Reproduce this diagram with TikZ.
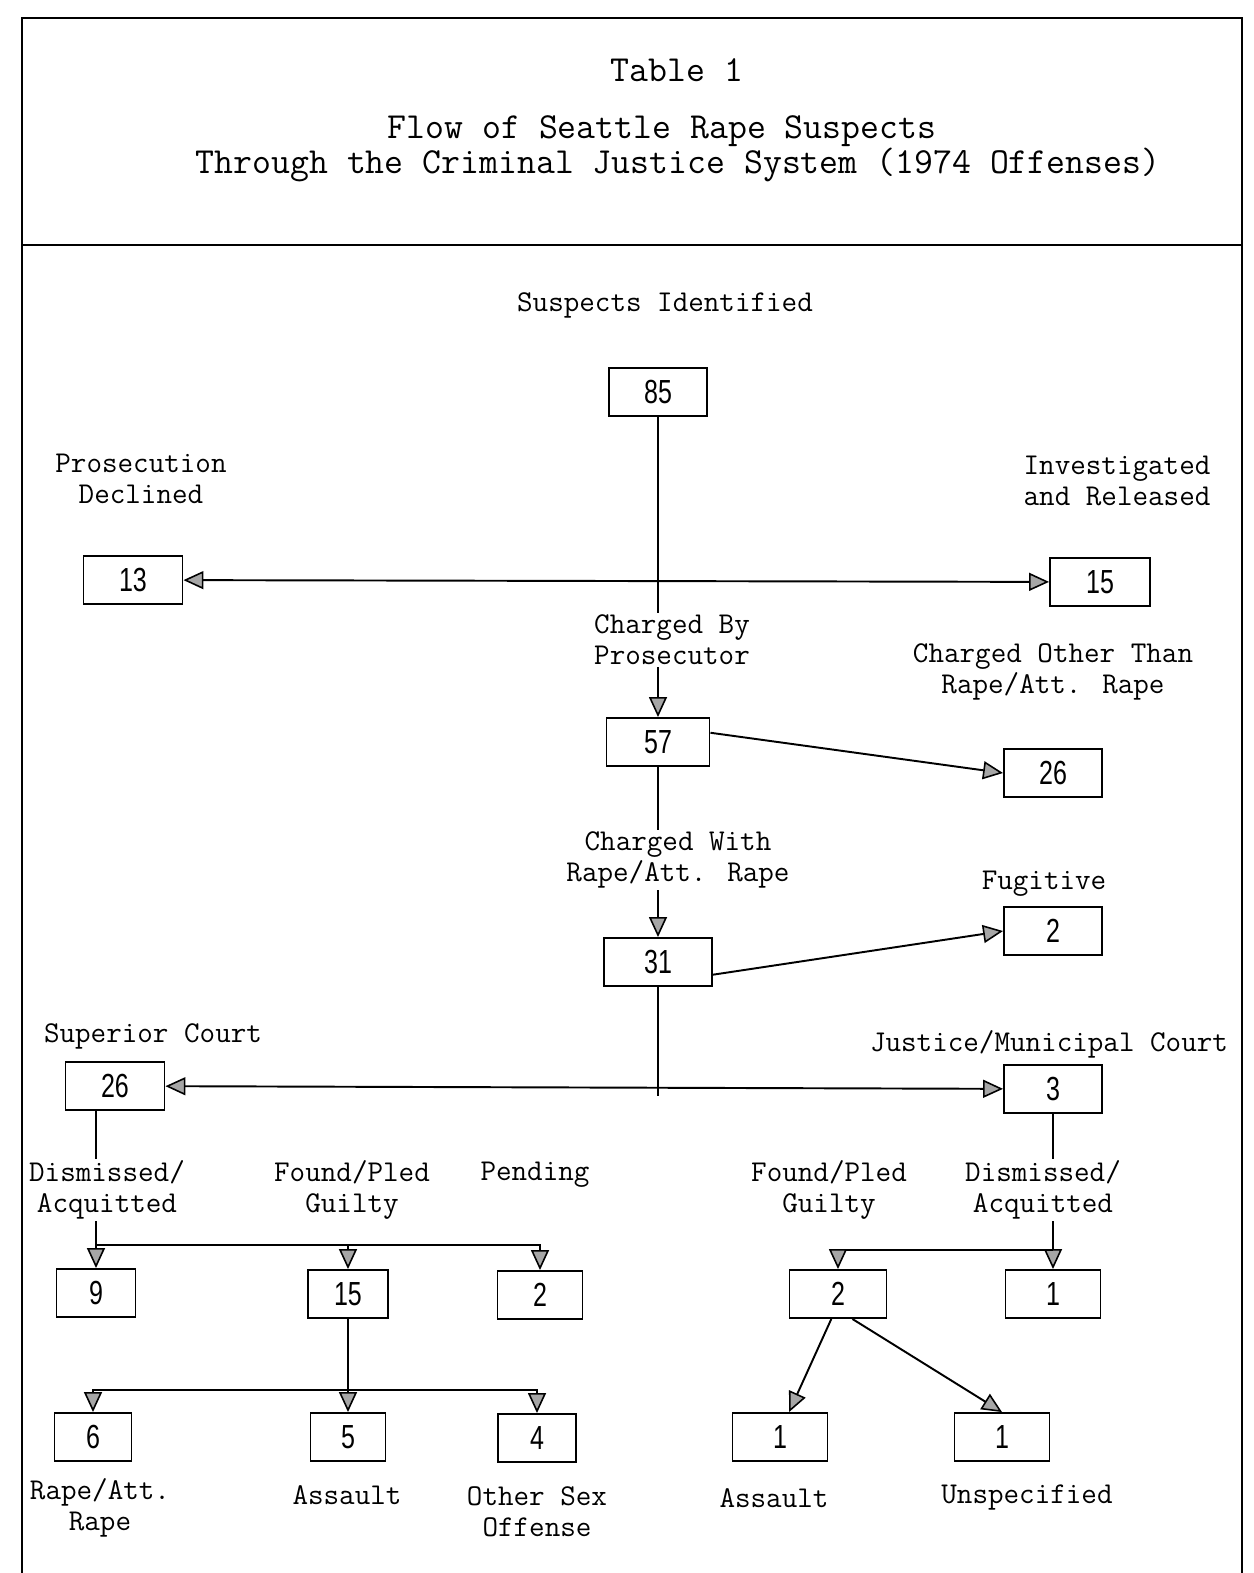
\documentclass[tikz,border=0pt]{standalone}
\usepackage{fontspec}
\usetikzlibrary{arrows.meta}
\newfontfamily\numfont[FakeStretch=0.75]{Liberation Sans}
\newcommand\lbfont{\ttfamily\fontsize{17.2}{17.6}\selectfont}
\newcommand\ttlfont{\ttfamily\fontsize{20.9}{22}\selectfont}
\begin{document}
\begin{tikzpicture}[x=0.02cm,y=-0.02cm,line width=1.1pt,
  numbox/.style={draw,minimum width=#1*0.02cm,minimum height=0.96cm,inner sep=0pt,font=\numfont\fontsize{19}{19}\selectfont},
  lbl/.style={font=\lbfont,align=center,inner sep=1pt},
  lblw/.style={lbl,fill=white},
  ttl/.style={font=\ttlfont,inner sep=0pt},
  tip/.tip={Triangle[length=0.4cm,width=0.36cm,fill=gray!70,line width=0.9pt]},
  arr/.style={-tip},
  dblarr/.style={tip-tip}]
\useasboundingbox (0,0) rectangle (1254,1573);
% frame
\draw (22,1573) -- (22,18) -- (1242,18) -- (1242,1573);
\draw (22,245) -- (1242,245);
\node[ttl] (tab) at (677,70) {Table 1};
\node[ttl] (ttla) at (662,131) {Flow of Seattle Rape Suspects};
\node[ttl] (ttlb) at (678,165) {Through the Criminal Justice System (1974 Offenses)};
% boxes
\node[numbox=98] (n85) at (658,392) {85};
\node[numbox=99] (n13) at (133,580) {13};
\node[numbox=100] (n15) at (1100,582) {15};
\node[numbox=103] (n57) at (658,742) {57};
\node[numbox=98] (n26a) at (1053,773) {26};
\node[numbox=108] (n31) at (658,962) {31};
\node[numbox=98] (n2f) at (1053,931) {2};
\node[numbox=99] (n26s) at (115,1086) {26};
\node[numbox=98] (n3) at (1053,1089) {3};
\node[numbox=79] (n9) at (96,1293) {9};
\node[numbox=80] (n15b) at (348,1294) {15};
\node[numbox=85] (n2p) at (540,1295) {2};
\node[numbox=77] (n6) at (93,1437) {6};
\node[numbox=75] (n5) at (348,1437) {5};
\node[numbox=78] (n4) at (537,1438) {4};
\node[numbox=97] (n2j) at (838,1294) {2};
\node[numbox=95] (n1) at (1053,1294) {1};
\node[numbox=95] (n1a) at (780,1437) {1};
\node[numbox=95] (n1u) at (1002,1437) {1};
% junctions
\coordinate (c31) at (658,1096);
\coordinate (s1) at (96,1245);
\coordinate (t1) at (348,1390);
\coordinate (r1) at (1053,1250);
% connectors
\draw[arr] (n85) -- (n57);
\draw[dblarr] (n13) -- (n15);
\draw[arr] (n57.10) -- (n26a.west);
\draw[arr] (n57) -- (n31);
\draw[arr] (n31.-13) -- (n2f.west);
\draw (n31.south) -- (c31);
\draw[dblarr] (n26s) -- (n3);
\draw[arr] (n26s.south -| n9) -- (n9.north);
\draw[arr] (s1) -| (n15b.north);
\draw[arr] (s1) -| (n2p.north);
\draw[arr] (n15b) -- (n5);
\draw[arr] (t1) -| (n6.north);
\draw[arr] (t1) -| (n4.north);
\draw[arr] (n3) -- (n1);
\draw[arr] (r1) -| (n2j.north);
\draw[arr] (n2j.-105) -- (n1a.70);
\draw[arr] (n2j.-60) -- (n1u.north);
% labels
\node[lbl] (lsusp) at (665,305) {Suspects Identified};
\node[lbl] (lpros) at (141,479) {Prosecution\\Declined};
\node[lbl] (linv) at (1117,481) {Investigated\\and Released};
\node[lblw] (lchby) at (672,640) {Charged By\\Prosecutor};
\node[lbl] (lchot) at (1053,672) {Charged Other Than\\Rape/Att. Rape};
\node[lblw] (lchw) at (678,860) {Charged With\\Rape/Att. Rape};
\node[lbl] (lfug) at (1044,884) {Fugitive};
\node[lbl] (lsup) at (153,1036) {Superior Court};
\node[lbl] (ljus) at (1049,1044) {Justice/Municipal Court};
\node[lblw] (ldisa) at (107,1190) {Dismissed/\\Acquitted};
\node[lbl] (lfnda) at (352,1190) {Found/Pled\\Guilty};
\node[lbl] (lpend) at (535,1175) {Pending};
\node[lbl] (lfndb) at (829,1190) {Found/Pled\\Guilty};
\node[lblw] (ldisb) at (1043,1190) {Dismissed/\\Acquitted};
\node[lbl] (lrape) at (100,1508) {Rape/Att.\\Rape};
\node[lbl] (lasa) at (347,1495) {Assault};
\node[lbl] (loth) at (537,1512) {Other Sex\\Offense};
\node[lbl] (lasb) at (774,1498) {Assault};
\node[lbl] (lunsp) at (1027,1498) {Unspecified};
\end{tikzpicture}
\end{document}
